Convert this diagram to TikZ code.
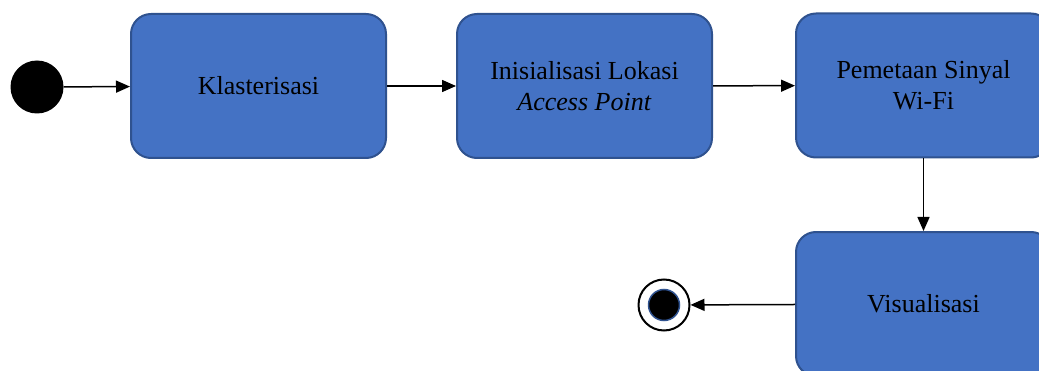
\documentclass[tikz,border=0pt]{standalone}
\usepackage{fontspec}
\setmainfont{Liberation Serif}
\usetikzlibrary{arrows.meta}
\definecolor{boxblue}{HTML}{4472C4}
\definecolor{edgeblue}{HTML}{2F528F}
\tikzset{
	actbox/.style={draw=edgeblue, line width=2pt, fill=boxblue, rounded corners=20pt,
		minimum width=255pt, minimum height=144pt, inner sep=0pt, align=center,
		font=\fontsize{26}{31}\selectfont},
	flow/.style={line width=1.5pt, -{Triangle[length=14pt,width=12pt]}}
}

\begin{document}
\begin{tikzpicture}[x=1pt, y=1pt]
		%%%%% START %%%%%
		\clip (0, 0) rectangle (1039, 370);
		\useasboundingbox (0, 0) rectangle (1039, 370);
		
		\node[circle, fill=black, minimum size=53pt, inner sep=0pt] (start) at (37, 283) {};
		
		\node[actbox] (klaster) at (258.5, 284) {Klasterisasi};
		\node[actbox] (inisial) at (584.5, 284) {Inisialisasi Lokasi\\\textit{Access Point}};
		\node[actbox] (peta) at (923.5, 284.5) {Pemetaan Sinyal\\Wi-Fi};
		\node[actbox] (visual) at (923.5, 66) {Visualisasi};
		
		\node[circle, draw=black, line width=2pt, fill=white, minimum size=51pt, inner sep=0pt] (end) at (664, 65) {};
		\node[circle, draw=edgeblue, line width=1.5pt, fill=black, minimum size=31pt, inner sep=0pt] (endin) at (end) {};
		
		\draw[flow] (start) -- (klaster);
		\draw[flow] (klaster) -- (inisial);
		\draw[flow] (inisial) -- (peta);
		\draw[flow] (peta) -- (visual);
		\draw[flow] (visual) -- (end);
		
		%%%%% END %%%%%
	\end{tikzpicture}
\end{document}
